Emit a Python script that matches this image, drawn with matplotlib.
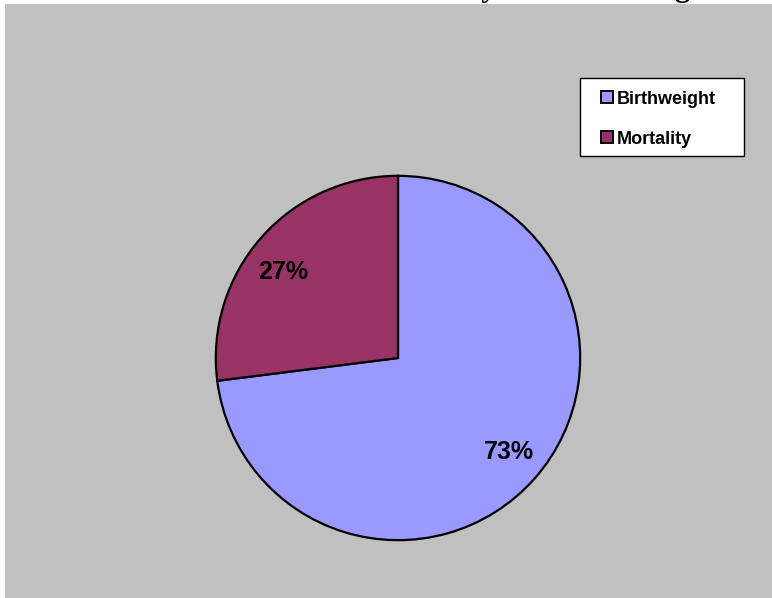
import matplotlib

matplotlib.use("Agg")
import matplotlib.pyplot as plt
from matplotlib.patches import Rectangle
from matplotlib.transforms import offset_copy

# data
labels = ["Birthweight", "Mortality"]
shares = [73, 27]
colors = ["#9999FF", "#993366"]
title = "Mortality and Birthweight"

W, H = 772, 598
fig = plt.figure(figsize=(W / 100, H / 100), dpi=100, facecolor="white")


def px(x, y):
    # pixel coords from top-left -> figure fraction
    return x / W, 1 - y / H


# grey chart area (white strip along top and left edge)
bg = fig.add_axes([5 / W, 0, 1 - 5 / W, (H - 4) / H], zorder=0)
bg.set_facecolor("#C0C0C0")
bg.set_xticks([])
bg.set_yticks([])
for s in bg.spines.values():
    s.set_visible(False)

# title is clipped off the top, only descenders show
fig.text(371 / W, 1 + 4 / H, title, ha="left", va="baseline",
         family="Liberation Serif", fontweight="bold", fontsize=22, zorder=5)

cx, cy, r = 398, 358, 184
ax = fig.add_axes([(cx - r) / W, (H - cy - r) / H, 2 * r / W, 2 * r / H], zorder=2)
ax.set_facecolor("none")
wedges, _, autotexts = ax.pie(
    shares, colors=colors, startangle=90, counterclock=False,
    autopct="%d%%", pctdistance=0.78, radius=1,
    wedgeprops=dict(edgecolor="black", linewidth=1.6),
    textprops=dict(family="Liberation Sans", fontweight="bold", fontsize=18),
)
# small nudges so the labels sit where the original placed them
for t, (dx, dy) in zip(autotexts, [(4, 0), (-8, -8)]):
    t.set_transform(offset_copy(t.get_transform(), fig=fig, x=dx, y=dy, units="dots"))
ax.set_xlim(-1.01, 1.01)
ax.set_ylim(-1.01, 1.01)
ax.set_aspect("equal")
ax.axis("off")

# legend box drawn by hand to match the old-style layout
x0, y0 = px(580, 156)
x1, y1 = px(744, 78)
fig.patches.append(Rectangle((x0, y0), x1 - x0, y1 - y0, transform=fig.transFigure,
                             facecolor="white", edgecolor="black", linewidth=1.0,
                             zorder=6))
for i, (lab, col) in enumerate(zip(labels, colors)):
    yc = 97 + 40 * i
    sx, sy = px(601, yc + 6)
    fig.patches.append(Rectangle((sx, sy), 12 / W, 12 / H, transform=fig.transFigure,
                                 facecolor=col, edgecolor="black", linewidth=1.4,
                                 zorder=7))
    tx, ty = px(617, yc)
    fig.text(tx, ty, lab, ha="left", va="center_baseline", family="Liberation Sans",
             fontweight="bold", fontsize=13, zorder=7)

fig.savefig("out.png", dpi=100, facecolor="white")
